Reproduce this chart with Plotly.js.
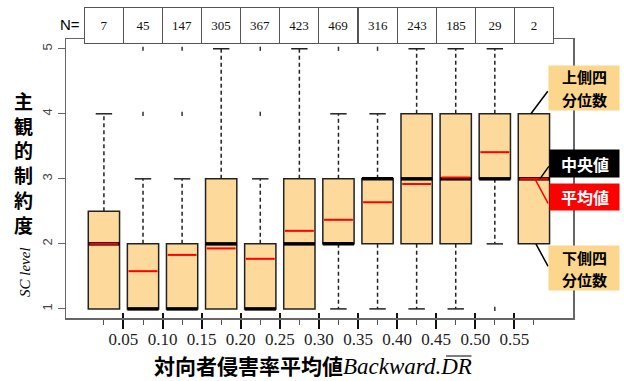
<!DOCTYPE html>
<html><head><meta charset="utf-8">
<script src="https://cdn.plot.ly/plotly-3.0.1.min.js"></script>
<style>body{margin:0;background:#fff}#chart{width:624px;height:381px}</style>
</head><body><div id="chart"></div>
<script>
// ---- data ----
const positions = [0,1,2,3,4,5,6,7,8,9,10,11];
const counts = [7,45,147,305,367,423,469,316,243,185,29,2];
const q1 = [1,1,1,1,1,1,2,2,2,2,3,2];
const medians = [2,1,1,2,1,2,2,3,3,3,3,3];
const q3 = [2.5,2,2,3,2,3,3,3,4,4,4,4];
const means = [2.0,1.58,1.83,1.93,1.77,2.2,2.37,2.64,2.92,3.02,3.41,3.0];
const lowerWhisker = [1,1,1,1,1,1,1,1,1,1,2,2];
const upperWhisker = [4,3,3,5,3,5,4,4,5,5,5,4];
const outlierX = [1,1,2,2,4,4,6,7,10];
const outlierY = [4,5,4,5,4,5,5,5,1];
const boundaryTicks = [0.5,1.5,2.5,3.5,4.5,5.5,6.5,7.5,8.5,9.5,10.5];
const boundaryLabels = ["0.05","0.10","0.15","0.20","0.25","0.30","0.35","0.40","0.45","0.50","0.55"];
const yTicks = [1,2,3,4,5];

// ---- styles ----
const FILL = '#FDDA9C', LABELFILL = '#FCD68C';
const BOXW = 0.8, CAPW = 0.21;
const serif = '"Liberation Serif", "Times New Roman", serif';
const cjk = '"Noto Sans CJK JP", sans-serif';

// geometry helpers for plot area (pixels -> paper)
const L = 66, R = 573, T = 39, B = 318;
const px = v => (v - L) / (R - L);
const py = v => (B - v) / (B - T);

// ---- build segments from data ----
const wx = [], wy = [], cx = [], cy = [], mx = [], my = [], ax_ = [], ay_ = [];
positions.forEach((p, i) => {
  if (upperWhisker[i] > q3[i]) {
    wx.push(p, p, null); wy.push(q3[i], upperWhisker[i], null);
    cx.push(p - CAPW, p + CAPW, null); cy.push(upperWhisker[i], upperWhisker[i], null);
  }
  if (lowerWhisker[i] < q1[i]) {
    wx.push(p, p, null); wy.push(q1[i], lowerWhisker[i], null);
    cx.push(p - CAPW, p + CAPW, null); cy.push(lowerWhisker[i], lowerWhisker[i], null);
  }
  mx.push(p - BOXW/2, p + BOXW/2, null); my.push(medians[i], medians[i], null);
  ax_.push(p - BOXW/2 + 0.03, p + BOXW/2 - 0.03, null); ay_.push(means[i], means[i], null);
});

const traces = [
  {type:'bar', x:positions, base:q1, y:q3.map((v,i)=>v-q1[i]), width:BOXW,
   marker:{color:FILL, line:{color:'#222', width:1.5}}, hoverinfo:'skip'},
  {type:'scatter', mode:'lines', x:wx, y:wy, line:{color:'#222', width:1.5, dash:'4px,3px'}, hoverinfo:'skip'},
  {type:'scatter', mode:'lines', x:cx, y:cy, line:{color:'#222', width:1.5}, hoverinfo:'skip'},
  {type:'scatter', mode:'lines', x:mx, y:my, line:{color:'#000', width:3.5}, hoverinfo:'skip'},
  {type:'scatter', mode:'lines', x:ax_, y:ay_, line:{color:'#FF0000', width:2}, hoverinfo:'skip'},
  {type:'scatter', mode:'markers', x:outlierX, y:outlierY,
   marker:{symbol:'line-ns-open', size:3, color:'#333', line:{color:'#333', width:1.5}}, hoverinfo:'skip'}
];

const annotations = [];
// N table
counts.forEach((n, i) => annotations.push({
  x: positions[i], xref:'x', xanchor:'center', y:1, yref:'paper', yanchor:'middle', yshift:14,
  text: String(n), showarrow:false, width:38, height:35, borderpad:0,
  bordercolor:'#555', borderwidth:1, bgcolor:'#fff',
  font:{family:serif, size:13, color:'#111'}
}));
annotations.push({x:px(70), xref:'paper', xanchor:'center', y:py(24), yref:'paper', yanchor:'middle', text:'N=', showarrow:false,
  font:{family:'"Liberation Sans", Arial, sans-serif', size:15, color:'#000'}});
// y title
annotations.push({x:px(23), xref:'paper', xanchor:'center', y:py(162), yref:'paper', yanchor:'middle', text:'主<br>観<br>的<br>制<br>約<br>度',
  showarrow:false, font:{family:cjk, size:19, color:'#000', weight:'bold'}});
annotations.push({x:px(25), xref:'paper', xanchor:'center', y:py(272), yref:'paper', yanchor:'middle', text:'SC level', textangle:-90,
  showarrow:false, font:{family:serif, size:15, style:'italic', color:'#000'}});
// x title
annotations.push({x:px(313), xref:'paper', xanchor:'center', y:py(365), yref:'paper', yanchor:'middle', showarrow:false,
  text:'<b>対向者侵害率平均値</b><span style="font-family:Liberation Serif;font-style:italic;font-size:23px">Backward.DR</span>',
  font:{family:cjk, size:21, color:'#000'}});
// overline over "DR"
annotations.push({x:px(446), xref:'paper', y:py(356), yref:'paper', text:'', showarrow:true, arrowhead:0,
  arrowwidth:1.2, arrowcolor:'#000', ax:27, ay:0, standoff:0, startstandoff:0});
// right labels (each line its own text; box drawn separately)
const labels = [
  {lines:['上側四','分位数'], cx:584, cy:88, w:70, h:44, bg:LABELFILL, fc:'#000'},
  {lines:['中央値'], cx:584.5, cy:163.5, w:69, h:27, bg:'#000', fc:'#fff'},
  {lines:['平均値'], cx:584.5, cy:197, w:69, h:26, bg:'#FF0000', fc:'#fff'},
  {lines:['下側四','分位数'], cx:584, cy:268, w:70, h:44, bg:LABELFILL, fc:'#000'}
];
const last = positions.length - 1;
// leader lines
annotations.push({x:positions[last], y:q3[last], xshift:-3, text:'', showarrow:true, arrowhead:0, arrowwidth:1.5, arrowcolor:'#000', ax:18, ay:-24, standoff:0});
annotations.push({x:positions[last], y:medians[last], xshift:6, text:'', showarrow:true, arrowhead:0, arrowwidth:1.5, arrowcolor:'#000', ax:10, ay:-14, standoff:0});
annotations.push({x:positions[last], y:means[last], xshift:1, text:'', showarrow:true, arrowhead:0, arrowwidth:1.5, arrowcolor:'#FF0000', ax:14, ay:26, standoff:0});
annotations.push({x:positions[last], y:q1[last], xshift:2, text:'', showarrow:true, arrowhead:0, arrowwidth:1.5, arrowcolor:'#000', ax:13, ay:24, standoff:0});
const LINEGAP = 22;
labels.forEach(l => {
  annotations.push({x:px(l.cx), xref:'paper', xanchor:'center', y:py(l.cy), yref:'paper', yanchor:'middle', text:' ',
    showarrow:false, width:l.w, height:l.h, borderpad:0, bgcolor:l.bg, font:{size:4}});
  const n = l.lines.length;
  l.lines.forEach((t, k) => annotations.push({x:px(l.cx), xref:'paper', xanchor:'center',
    y:py(l.cy + (k - (n-1)/2) * LINEGAP), yref:'paper', yanchor:'middle', text:t, showarrow:false,
    font:{family:cjk, size:n > 1 ? 15 : 16, color:l.fc, weight:'bold'}}));
});

const layout = {
  width:624, height:381, margin:{l:L, r:624-R, t:T, b:381-B},
  paper_bgcolor:'#fff', plot_bgcolor:'#fff', showlegend:false,
  xaxis:{range:[-0.97, 12.0], tickmode:'array', tickvals:boundaryTicks, ticktext:boundaryLabels,
    ticks:'outside', ticklen:9, tickwidth:2, tickcolor:'#111', ticklabelstandoff:-4,
    showline:true, mirror:true, linecolor:'#666', linewidth:1.5, showgrid:false, zeroline:false,
    tickfont:{family:serif, size:17, color:'#222'},
    minor:{tickmode:'array', tickvals:positions, ticks:'outside', ticklen:5, tickwidth:1, tickcolor:'#555', showgrid:false}},
  xaxis2:{range:[-0.97, 12.0], overlaying:'x', anchor:'y', side:'bottom', tickmode:'array', tickvals:boundaryTicks,
    ticks:'inside', ticklen:5, tickwidth:2, tickcolor:'#111', showticklabels:false, showline:false, showgrid:false, zeroline:false},
  yaxis:{range:[0.86, 5.15], tickmode:'array', tickvals:yTicks, ticks:'outside', ticklen:7, tickwidth:1, tickcolor:'#666',
    tickangle:-90, showline:true, mirror:true, linecolor:'#666', linewidth:1.5, showgrid:false, zeroline:false,
    tickfont:{family:'"Liberation Sans", Arial, sans-serif', size:13, color:'#444'}},
  annotations:annotations
};
traces.push({type:'scatter', x:[0], y:[1], xaxis:'x2', yaxis:'y', mode:'markers', marker:{opacity:0}, hoverinfo:'skip'});
Plotly.newPlot('chart', traces, layout, {staticPlot:true});
</script></body></html>
